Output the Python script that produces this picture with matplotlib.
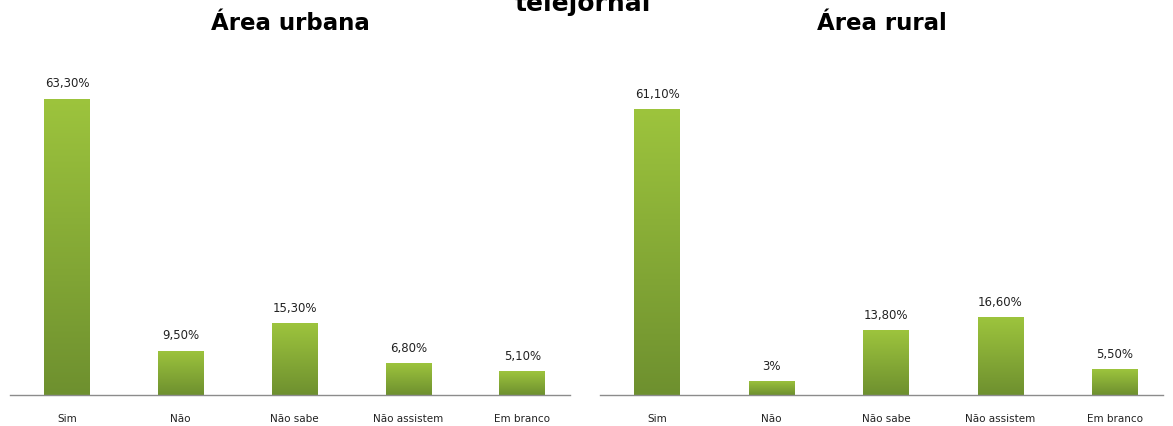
import numpy as np
import matplotlib.pyplot as plt
from matplotlib.colors import LinearSegmentedColormap

categories = ["Sim", "Não", "Não sabe", "Não assistem", "Em branco"]
urbana = [63.3, 9.5, 15.3, 6.8, 5.1]
urbana_labels = ["63,30%", "9,50%", "15,30%", "6,80%", "5,10%"]
rural = [61.1, 3.0, 13.8, 16.6, 5.5]
rural_labels = ["61,10%", "3%", "13,80%", "16,60%", "5,50%"]

plt.rcParams['font.family'] = ['DejaVu Sans']
green = LinearSegmentedColormap.from_list("g", ["#6e902f", "#9dc43d"])
grad = np.linspace(0, 1, 256).reshape(-1, 1)

fig = plt.figure(figsize=(11.73, 4.26), dpi=100)
ax1 = fig.add_axes([0.0085, 0.0728, 0.4775, 0.769])
ax2 = fig.add_axes([0.5115, 0.0728, 0.48, 0.769])


def draw(ax, vals, labels, title):
    x = np.arange(len(categories))
    bars = ax.bar(x, vals, width=0.40, color="none", edgecolor="none", zorder=2)
    for b, lab in zip(bars, labels):
        x0, w, h = b.get_x(), b.get_width(), b.get_height()
        im = ax.imshow(grad, cmap=green, origin="lower", aspect="auto",
                       extent=[x0, x0 + w, 0, h], zorder=2)
        im.set_clip_path(b)
        ax.annotate(lab, (x0 + w / 2, h), xytext=(0, 6), textcoords="offset points",
                    ha="center", va="bottom", fontsize=8.5, color="#222222")
    ax.set_xlim(-0.5, 4.42)
    ax.set_ylim(0, 70)
    ax.set_xticks(x)
    ax.set_xticklabels(categories, fontsize=7.5, color="#222222")
    ax.tick_params(axis="x", length=0, pad=14)
    ax.set_yticks([])
    for s in ["top", "left", "right"]:
        ax.spines[s].set_visible(False)
    ax.spines["bottom"].set_color("#8c8c8c")
    ax.spines["bottom"].set_linewidth(1.0)
    ax.set_title(title, fontsize=16.5, fontweight="bold", pad=27)


draw(ax1, urbana, urbana_labels, "Área urbana")
draw(ax2, rural, rural_labels, "Área rural")

fig.text(0.497, 1 - 11 / 426, "telejornal", ha="center", va="baseline",
         fontsize=18, fontweight="bold")

fig.savefig("out.png", dpi=100)
